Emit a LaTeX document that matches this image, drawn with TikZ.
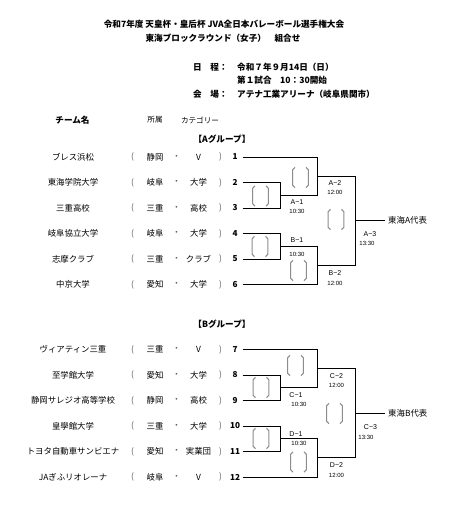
\documentclass[tikz,border=0pt]{standalone}
\usepackage{fontspec}
\newfontfamily\jp{Noto Sans CJK JP}
\newfontfamily\lab{Liberation Sans}
\usetikzlibrary{calc}
\tikzset{
  ttl/.style={font=\jp\bfseries\fontsize{8.6}{10}\selectfont, inner sep=0},
  hdr/.style={font=\jp\fontsize{7.6}{9}\selectfont, inner sep=0},
  body/.style={font=\jp\fontsize{8.4}{10}\selectfont, inner sep=0},
  paren/.style={body, text=black!65},
  num/.style={font=\jp\bfseries\fontsize{8.2}{10}\selectfont, inner sep=0},
  code/.style={font=\lab\fontsize{7}{8}\selectfont, inner sep=0},
  tm/.style={font=\lab\fontsize{6}{7}\selectfont, inner sep=0},
  wire/.style={line width=0.8pt, black},
  brkbox/.style={minimum width=17pt, minimum height=20pt, inner sep=0},
  brkline/.style={draw=black!45, line width=1pt},
}
\newcommand\teamrow[6]{%
  \node[body] (n#1) at (73,#2) {#3};
  \node[paren] (lp#1) at (132.5,#2) {(};
  \node[body] (p#1) at (155,#2) {#4};
  \node[paren] (d#1) at (176.5,#2) {・};
  \node[body] (c#1) at (198.5,#2) {#5};
  \node[paren] (rp#1) at (220.5,#2) {)};
  \node[num] (k#1) at (235,#2) {#6};
  \coordinate (s#1) at (242.5,#2);
}
\newcommand\mybrk[3]{%
  \node[brkbox] (#1) at (#2,#3) {};
  \draw[brkline] ([xshift=3.2pt]#1.north west) -- ([xshift=0.8pt,yshift=-2.5pt]#1.north west)
     -- ([xshift=0.8pt,yshift=2.5pt]#1.south west) -- ([xshift=3.2pt]#1.south west);
  \draw[brkline] ([xshift=-3.2pt]#1.north east) -- ([xshift=-0.8pt,yshift=-2.5pt]#1.north east)
     -- ([xshift=-0.8pt,yshift=2.5pt]#1.south east) -- ([xshift=-3.2pt]#1.south east);
}
\begin{document}
\begin{tikzpicture}[x=1pt,y=-1pt]
\useasboundingbox[fill=white] (0,0) rectangle (456,519);

% title
\node[ttl] (t1) at (224,24.5) {令和7年度 天皇杯・皇后杯 JVA全日本バレーボール選手権大会};
\node[ttl] (t2) at (223,38) {東海ブロックラウンド（女子）　組合せ};
\node[ttl, anchor=west] (d1) at (193,67) {日　程：};
\node[ttl, anchor=west] (d2) at (237,67) {令和７年９月14日（日）};
\node[ttl, anchor=west] (d3) at (237,80.7) {第１試合　10：30開始};
\node[ttl, anchor=west] (d4) at (193,94.3) {会　場：};
\node[ttl, anchor=west] (d5) at (237,94.3) {アテナ工業アリーナ（岐阜県関市）};

% headers
\node[ttl] (h1) at (72.5,120) {チーム名};
\node[hdr] (h2) at (155,120) {所属};
\node[hdr] (h3) at (200,120) {カテゴリー};
\node[ttl] (gA) at (222,139.5) {【Aグループ】};
\node[ttl] (gB) at (222,324) {【Bグループ】};

% group A teams
\teamrow{1}{157}{ブレス浜松}{静岡}{V}{1}
\teamrow{2}{182.5}{東海学院大学}{岐阜}{大学}{2}
\teamrow{3}{208}{三重高校}{三重}{高校}{3}
\teamrow{4}{233.5}{岐阜協立大学}{岐阜}{大学}{4}
\teamrow{5}{259}{志摩クラブ}{三重}{クラブ}{5}
\teamrow{6}{284.5}{中京大学}{愛知}{大学}{6}
% group B teams
\teamrow{7}{349.5}{ヴィアティン三重}{三重}{V}{7}
\teamrow{8}{375}{至学館大学}{愛知}{大学}{8}
\teamrow{9}{400.5}{静岡サレジオ高等学校}{静岡}{高校}{9}
\teamrow{10}{426}{皇學館大学}{三重}{大学}{10}
\teamrow{11}{451.5}{トヨタ自動車サンビエナ}{愛知}{実業団}{11}
\teamrow{12}{477}{JAぎふリオレーナ}{岐阜}{V}{12}

% junctions group A
\coordinate (A1) at (280,195.25);
\coordinate (A2) at (317,176.125);
\coordinate (B1) at (280,246.25);
\coordinate (B2) at (317,265.375);
\coordinate (A3) at (355,220.75);
% junctions group B
\coordinate (C1) at (280,387.75);
\coordinate (C2) at (317,368.625);
\coordinate (D1) at (280,438.75);
\coordinate (D2) at (317,457.875);
\coordinate (C3) at (355,413.25);

% winners
\node[body, anchor=west, inner xsep=3pt] (wA) at (385,220.75) {東海A代表};
\node[body, anchor=west, inner xsep=3pt] (wB) at (385,413.25) {東海B代表};

% bracket lines A
\draw[wire] (s2) -| (A1);
\draw[wire] (s3) -| (A1);
\draw[wire] (s1) -| (A2);
\draw[wire] (A1) -| (A2);
\draw[wire] (s4) -| (B1);
\draw[wire] (s5) -| (B1);
\draw[wire] (B1) -| (B2);
\draw[wire] (s6) -| (B2);
\draw[wire] (A2) -| (A3);
\draw[wire] (B2) -| (A3);
\draw[wire] (A3) -- (wA.west);
% bracket lines B
\draw[wire] (s8) -| (C1);
\draw[wire] (s9) -| (C1);
\draw[wire] (s7) -| (C2);
\draw[wire] (C1) -| (C2);
\draw[wire] (s10) -| (D1);
\draw[wire] (s11) -| (D1);
\draw[wire] (D1) -| (D2);
\draw[wire] (s12) -| (D2);
\draw[wire] (C2) -| (C3);
\draw[wire] (D2) -| (C3);
\draw[wire] (C3) -- (wB.west);

% match labels A
\node[code] (lA1) at (297,202) {A−1};
\node[tm] (tA1) at (297,211) {10:30};
\node[code] (lA2) at (335,183) {A−2};
\node[tm] (tA2) at (335,192.5) {12:00};
\node[code] (lB1) at (297,240.5) {B−1};
\node[tm] (tB1) at (297,254) {10:30};
\node[code] (lB2) at (335,273) {B−2};
\node[tm] (tB2) at (335,283) {12:00};
\node[code] (lA3) at (370,234.5) {A−3};
\node[tm] (tA3) at (367,243.5) {13:30};
% match labels B
\node[code] (lC2) at (336.5,376) {C−2};
\node[tm] (tC2) at (336.5,385) {12:00};
\node[code] (lC1) at (296,395) {C−1};
\node[tm] (tC1) at (299,404) {10:30};
\node[code] (lD1) at (296,434) {D−1};
\node[tm] (tD1) at (299,443) {10:30};
\node[code] (lD2) at (336.5,465.5) {D−2};
\node[tm] (tD2) at (336.5,475) {12:00};
\node[code] (lC3) at (370.5,427) {C−3};
\node[tm] (tC3) at (366,437) {13:30};

% score brackets
\mybrk{bA1}{260.5}{196}
\mybrk{bA2}{300.5}{177.5}
\mybrk{bA3}{336}{219.5}
\mybrk{bB1}{260}{246.5}
\mybrk{bB2}{298.5}{270.5}
\mybrk{bC2}{295.5}{365.5}
\mybrk{bC1}{261}{387.5}
\mybrk{bC3}{334.5}{413.5}
\mybrk{bD1}{261}{438.5}
\mybrk{bD2}{298.5}{462}
\end{tikzpicture}
\end{document}
